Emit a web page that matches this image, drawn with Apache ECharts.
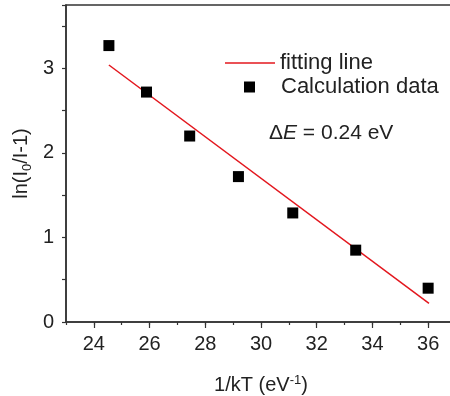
<!DOCTYPE html>
<html>
<head>
<meta charset="utf-8">
<script src="https://cdn.jsdelivr.net/npm/echarts@6/dist/echarts.min.js"></script>
<style>
  html, body { margin: 0; padding: 0; background: #fff; }
  #chart { width: 450px; height: 396px; }
</style>
</head>
<body>
<div id="chart"></div>
<script>
// data
const calcX = [24.54, 25.89, 27.44, 29.19, 31.14, 33.40, 36.00]
const calcY = [3.27, 2.72, 2.20, 1.72, 1.29, 0.85, 0.40]
const fitX = [24.54, 36.03]
const fitY = [3.04, 0.22]
const xTickLabels = [24, 26, 28, 30, 32, 34, 36]
const yTickLabels = [0, 1, 2, 3]

const font = 'Liberation Sans, Arial, sans-serif'
const axisColor = '#333'

const chart = echarts.init(document.getElementById('chart'))
const option = {
  backgroundColor: '#fff',
  animation: false,
  textStyle: { fontFamily: font },
  grid: {
    left: 66,
    top: 5,
    width: 390,
    bottom: 74,
    containLabel: false,
    outerBoundsMode: 'none',
    show: true,
    borderColor: axisColor,
    borderWidth: 1.5
  },
  xAxis: [
    {
      type: 'value',
      min: 23,
      max: 37,
      position: 'bottom',
      name: '1/kT (eV{sup|-1})',
      nameLocation: 'middle',
      nameGap: 52,
      nameTextStyle: {
        fontFamily: font,
        fontSize: 20,
        color: '#222',
        rich: {
          sup: { fontFamily: font, fontSize: 13, color: '#222', verticalAlign: 'top', padding: [0, 0, 10, 0] }
        }
      },
      axisLine: { show: true, lineStyle: { color: axisColor, width: 1.5 } },
      axisTick: { show: true, customValues: xTickLabels, length: 6, lineStyle: { color: axisColor, width: 1.2 } },
      axisLabel: { customValues: xTickLabels, fontFamily: font, fontSize: 20, color: '#222', margin: 12 },
      splitLine: { show: false }
    },
    {
      type: 'value',
      min: 23,
      max: 37,
      interval: 1,
      position: 'bottom',
      axisLine: { show: false },
      axisTick: { show: true, length: 3, lineStyle: { color: axisColor, width: 1.2 } },
      axisLabel: { show: false },
      splitLine: { show: false }
    }
  ],
  yAxis: {
    type: 'value',
    min: 0,
    max: 3.75,
    interval: 0.5,
    name: 'ln(I{sub|0}/I-1)',
    nameLocation: 'middle',
    nameGap: 32,
    nameMoveOverlap: false,
    nameTextStyle: {
      fontFamily: font,
      fontSize: 20,
      color: '#222',
      rich: {
        sub: { fontFamily: font, fontSize: 13, color: '#222', verticalAlign: 'bottom', padding: [12, 0, 0, 0] }
      }
    },
    axisLine: { show: true, lineStyle: { color: axisColor, width: 1.5 } },
    axisTick: { show: true, length: 4, lineStyle: { color: axisColor, width: 1.2 } },
    axisLabel: { customValues: yTickLabels, fontFamily: font, fontSize: 20, color: '#222', margin: 12 },
    splitLine: { show: false }
  },
  legend: [
    {
      data: [{ name: 'fitting line', icon: 'rect' }],
      left: 220,
      top: 47,
      itemWidth: 50,
      itemHeight: 1.5,
      itemStyle: { color: '#e3171e' },
      textStyle: { fontFamily: font, fontSize: 22, color: '#222' }
    },
    {
      data: [{ name: 'Calculation data', icon: 'rect' }],
      left: 239,
      top: 71,
      itemWidth: 11,
      itemHeight: 11,
      itemStyle: { color: '#000' },
      textStyle: { fontFamily: font, fontSize: 22, color: '#222', padding: [0, 0, 0, 21] }
    }
  ],
  graphic: [
    {
      type: 'text',
      left: 269,
      top: 123,
      style: {
        text: '{n|Δ}{i|E}{n| = 0.24 eV}',
        rich: {
          n: { fontFamily: font, fontSize: 21, fill: '#222' },
          i: { fontFamily: font, fontSize: 21, fontStyle: 'italic', fill: '#222' }
        }
      }
    }
  ],
  series: [
    {
      name: 'fitting line',
      type: 'line',
      symbol: 'none',
      data: fitX.map((x, i) => [x, fitY[i]]),
      lineStyle: { color: '#e3171e', width: 1.5 },
      itemStyle: { color: '#e3171e' },
      z: 2
    },
    {
      name: 'Calculation data',
      type: 'scatter',
      symbol: 'rect',
      symbolSize: 11,
      data: calcX.map((x, i) => [x, calcY[i]]),
      itemStyle: { color: '#000', opacity: 1 },
      z: 3
    }
  ]
}
chart.setOption(option)
</script>
</body>
</html>
